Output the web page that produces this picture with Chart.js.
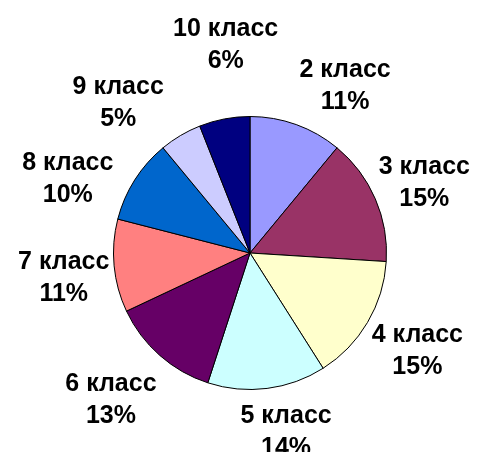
<!DOCTYPE html>
<html>
<head>
<meta charset="utf-8">
<script src="https://cdn.jsdelivr.net/npm/chart.js@4/dist/chart.umd.min.js"></script>
<style>
  html, body { margin: 0; padding: 0; background: #fff; }
  #wrap { width: 480px; height: 452px; }
</style>
</head>
<body>
<div id="wrap"><canvas id="chart" width="480" height="452"></canvas></div>
<script>
// categories and shares (percent), clockwise from 12 o'clock
const classLabels = ['2 класс', '3 класс', '4 класс', '5 класс', '6 класс', '7 класс', '8 класс', '9 класс', '10 класс'];
const classShares = [11, 15, 15, 14, 13, 11, 10, 5, 6];
const sliceColors = ['#9999FF', '#993366', '#FFFFCC', '#CCFFFF', '#660066', '#FF8080', '#0066CC', '#CCCCFF', '#000080'];

// small pixel nudges for the outside labels (Excel's best-fit moved some of them)
const labelNudge = [[30, 1], [-2, 1], [2, 7], [12, 2], [-12, 13], [5, 8], [-20, 22], [-34, 4], [13, -33]];

/**
 * Draws "name / percent" labels outside each slice
 */
const outsideLabels = {
  id: 'outsideLabels',
  afterDatasetsDraw(chart) {
    const ctx = chart.ctx;
    const meta = chart.getDatasetMeta(0);
    const data = chart.data.datasets[0].data;
    const total = data.reduce((sum, v) => sum + v, 0);
    const lineH = 32;

    ctx.save();
    ctx.font = 'bold 25px "Liberation Sans", Arial, sans-serif';
    ctx.fillStyle = '#000';
    ctx.textAlign = 'center';
    ctx.textBaseline = 'middle';

    meta.data.forEach((arc, i) => {
      const { x, y, startAngle, endAngle, outerRadius } = arc.getProps(['x', 'y', 'startAngle', 'endAngle', 'outerRadius'], true);
      const mid = (startAngle + endAngle) / 2;
      const cos = Math.cos(mid);
      const sin = Math.sin(mid);
      const line1 = chart.data.labels[i];
      const line2 = Math.round(data[i] / total * 100) + '%';
      const w = Math.max(ctx.measureText(line1).width, ctx.measureText(line2).width);
      const h = lineH * 2;

      // anchor just outside the rim, then push the box outward by half its size
      const r = outerRadius + 10;
      let cx = x + r * cos + (w / 2) * cos;
      let cy = y + r * sin + (h / 2) * sin;
      cx += labelNudge[i][0];
      cy += labelNudge[i][1];

      ctx.fillText(line1, cx, cy - lineH / 2);
      ctx.fillText(line2, cx, cy + lineH / 2);
    });
    ctx.restore();
  }
};

const chart = new Chart(document.getElementById('chart'), {
  type: 'pie',
  data: {
    labels: classLabels,
    datasets: [{
      data: classShares,
      backgroundColor: sliceColors,
      borderColor: '#000',
      borderWidth: 1
    }]
  },
  options: {
    responsive: false,
    animation: false,
    layout: {
      padding: { left: 113, right: 93, top: 116, bottom: 62 }
    },
    plugins: {
      legend: { display: false },
      tooltip: { enabled: false }
    }
  },
  plugins: [outsideLabels]
});
</script>
</body>
</html>
